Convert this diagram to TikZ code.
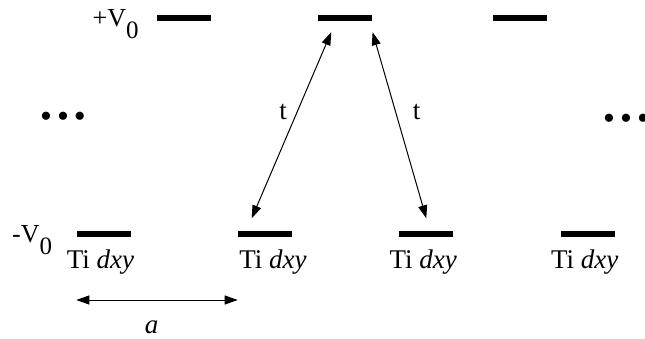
\documentclass[tikz,border=0pt]{standalone}
\usepackage{fontspec}
\setmainfont{Liberation Serif}
\usetikzlibrary{arrows.meta,positioning}

% lowered subscript zero of the potential labels
\newcommand{\lowzero}{\raisebox{-12pt}{\fontsize{25}{25}\selectfont 0}}

\begin{document}
\begin{tikzpicture}[
    x=1pt, y=1pt,
    level/.style={
        rectangle,
        fill=black,
        inner sep=0pt,
        minimum width=54pt,
        minimum height=6pt
    },
    orbital/.style={
        inner sep=0pt,
        anchor=base,
        font=\fontsize{27}{30}\selectfont
    },
    hop/.style={
        {Triangle[length=13pt,width=9pt]}-{Triangle[length=13pt,width=9pt]},
        line width=1pt
    },
    % gap between neighbouring levels
    node distance=107pt
]

    \useasboundingbox (0,0) rectangle (645,-339);

    % Upper levels (+V0)
    \node[level] (top1) at (184,-18) {};
    \node[level, right=of top1] (top2) {};
    \node[level, right=120pt of top2] (top3) {};

    % Lower levels (-V0), the Ti sites
    \node[level] (bot1) at (103.5,-233.5) {};
    \node[level, right=of bot1] (bot2) {};
    \node[level, right=of bot2] (bot3) {};
    \node[level, right=of bot3] (bot4) {};

    % Orbital labels below the Ti levels
    \node[orbital] (dxy1) at ([xshift=-3pt,yshift=-34.5pt]bot1.center) {Ti \textit{dxy}};
    \node[orbital] (dxy2) at ([xshift=8pt,yshift=-34.5pt]bot2.center) {Ti \textit{dxy}};
    \node[orbital] (dxy3) at ([xshift=-3pt,yshift=-34.5pt]bot3.center) {Ti \textit{dxy}};
    \node[orbital] (dxy4) at ([xshift=-3pt,yshift=-34.5pt]bot4.center) {Ti \textit{dxy}};

    % Potential labels
    \node[orbital, anchor=base east, font=\fontsize{26}{30}\selectfont] (vplus) at ([xshift=-18pt,yshift=-9pt]top1.west) {+V\lowzero};
    \node[orbital, anchor=base east, font=\fontsize{26}{30}\selectfont] (vminus) at ([xshift=-24pt,yshift=-9.5pt]bot1.west) {-V\lowzero};

    % Continuation dots
    \node[orbital, anchor=base west, font=\fontsize{34}{36}\selectfont] (moreleft) at (40,-128) {\textbullet\hspace{5pt}\textbullet\hspace{5pt}\textbullet};
    \node[orbital, anchor=base west, font=\fontsize{34}{36}\selectfont] (moreright) at (603,-130) {\textbullet\hspace{5pt}\textbullet\hspace{5pt}\textbullet};

    % Hopping between the levels
    \draw[hop] ([xshift=14pt,yshift=12pt]bot2.north west) -- ([xshift=13pt,yshift=-11pt]top2.south west);
    \draw[hop] ([yshift=-11pt]top2.south east) -- ([yshift=12pt]bot3.north);
    \node[orbital] (tleft) at (283,-120) {t};
    \node[orbital] (tright) at (416.5,-120) {t};

    % Lattice spacing
    \draw[hop] ([yshift=-66.5pt]bot1.west) -- ([yshift=-66.5pt]bot2.west);
    \node[orbital] (spacing) at (151.5,-333) {\textit{a}};

\end{tikzpicture}
\end{document}
